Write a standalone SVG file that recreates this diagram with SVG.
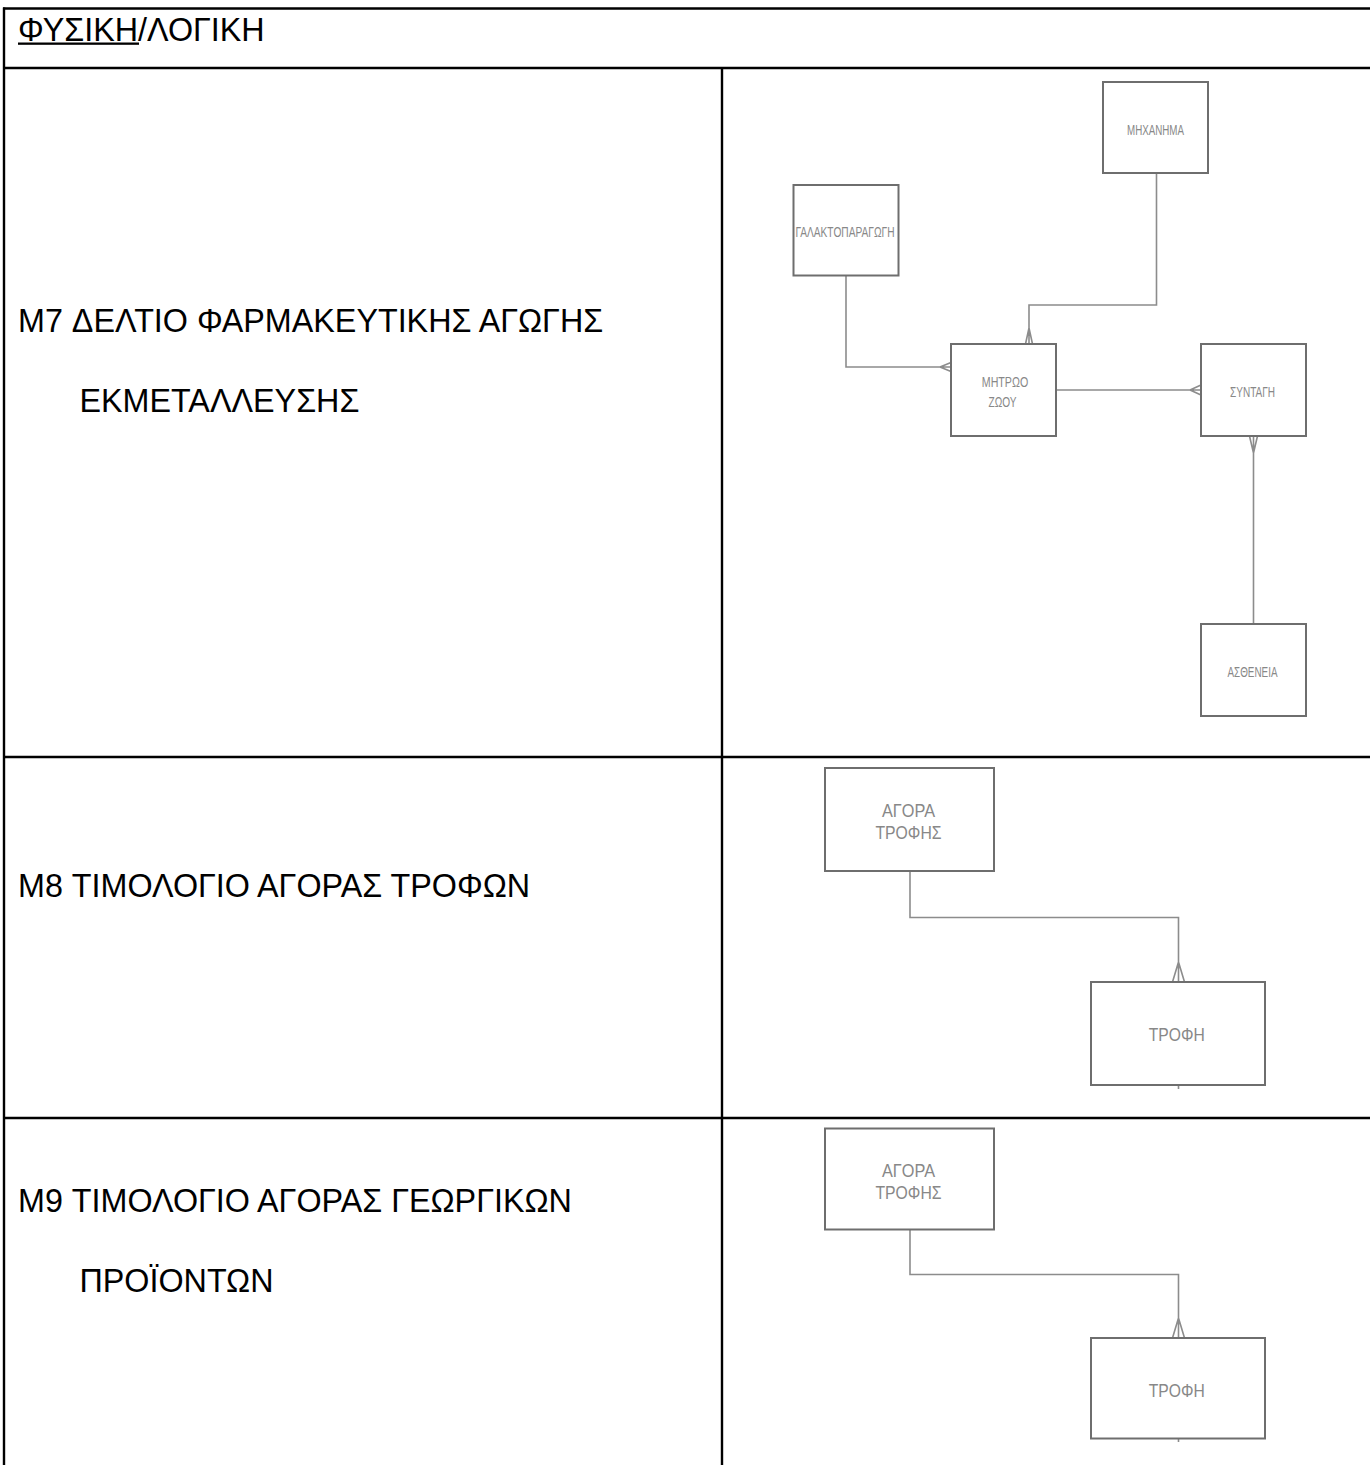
<svg xmlns="http://www.w3.org/2000/svg" width="1370" height="1465" viewBox="0 0 1370 1465">
<style>
.grid line{stroke:#000;stroke-width:2.4}
.lbl{font-family:"Liberation Sans",Arial,sans-serif;font-size:32.3px;fill:#000}
.ent rect{fill:#fff;stroke:#6e6e6e;stroke-width:2}
.ent text{font-family:"Liberation Sans",Arial,sans-serif;fill:#888;text-anchor:middle}
.s{font-size:15px}
.m{font-size:17.5px}
#connectors path{stroke:#8c8c8c;stroke-width:1.6;fill:none}
</style>
<rect width="1370" height="1465" fill="#fff"/>
<g class="grid">
<line x1="3" y1="8.5" x2="1370" y2="8.5"/>
<line x1="3" y1="68" x2="1370" y2="68"/>
<line x1="3" y1="757" x2="1370" y2="757"/>
<line x1="3" y1="1118" x2="1370" y2="1118"/>
<line x1="4" y1="7.5" x2="4" y2="1465"/>
<line x1="722" y1="68" x2="722" y2="1465"/>
</g>
<g id="labels">
<text class="lbl" x="18" y="40.5">ΦΥΣΙΚΗ/ΛΟΓΙΚΗ</text>
<rect x="18" y="42.5" width="121" height="2.3" fill="#000"/>
<text class="lbl" x="18" y="332">M7 ΔΕΛΤΙΟ ΦΑΡΜΑΚΕΥΤΙΚΗΣ ΑΓΩΓΗΣ</text>
<text class="lbl" x="79.5" y="412">ΕΚΜΕΤΑΛΛΕΥΣΗΣ</text>
<text class="lbl" x="18" y="897">M8 ΤΙΜΟΛΟΓΙΟ ΑΓΟΡΑΣ ΤΡΟΦΩΝ</text>
<text class="lbl" x="18" y="1212">M9 ΤΙΜΟΛΟΓΙΟ ΑΓΟΡΑΣ ΓΕΩΡΓΙΚΩΝ</text>
<text class="lbl" x="79.5" y="1292">ΠΡΟΪΟΝΤΩΝ</text>
</g>
<g id="connectors">
<path d="M846 275.5 V367 H951 M940 367 L951 362.5 M940 367 L951 371.5"/>
<path d="M1156.5 173 V305 H1029 V344 M1029 328 L1025.5 344 M1029 328 L1032.5 344"/>
<path d="M1056 390 H1201 M1190 390 L1201 385 M1190 390 L1201 395"/>
<path d="M1253.5 436 V624 M1253.5 453 L1249.5 436 M1253.5 453 L1257.5 436"/>
<path d="M910 871 V917.5 H1178.5 V982 M1178.5 962 L1172.5 982 M1178.5 962 L1184.5 982 M1178.5 1085 V1089"/>
<path d="M910 1229.5 V1274.5 H1178.5 V1338 M1178.5 1318 L1172.5 1338 M1178.5 1318 L1184.5 1338 M1178.5 1438.5 V1442"/>
</g>
<g id="galaktoparagogi" class="ent">
<rect x="793.5" y="185" width="105" height="90.5"/>
<text class="s" x="845" y="237" textLength="99" lengthAdjust="spacingAndGlyphs">ΓΑΛΑΚΤΟΠΑΡΑΓΩΓΗ</text>
</g>
<g id="michanima" class="ent">
<rect x="1103" y="82" width="105" height="91"/>
<text class="s" x="1155.5" y="134.5" textLength="57" lengthAdjust="spacingAndGlyphs">ΜΗΧΑΝΗΜΑ</text>
</g>
<g id="mitroo-zoou" class="ent">
<rect x="951" y="344" width="105" height="92"/>
<text class="s" x="1005" y="386.5" textLength="46.5" lengthAdjust="spacingAndGlyphs">ΜΗΤΡΩΟ</text>
<text class="s" x="1002.5" y="407" textLength="28" lengthAdjust="spacingAndGlyphs">ΖΩΟΥ</text>
</g>
<g id="syntagi" class="ent">
<rect x="1201" y="344" width="105" height="92"/>
<text class="s" x="1252.5" y="397" textLength="45" lengthAdjust="spacingAndGlyphs">ΣΥΝΤΑΓΗ</text>
</g>
<g id="astheneia" class="ent">
<rect x="1201" y="624" width="105" height="92"/>
<text class="s" x="1252.5" y="677" textLength="50" lengthAdjust="spacingAndGlyphs">ΑΣΘΕΝΕΙΑ</text>
</g>
<g id="agora-trofis-m8" class="ent">
<rect x="825" y="768" width="169" height="103"/>
<text class="m" x="908.5" y="816.5" textLength="53" lengthAdjust="spacingAndGlyphs">ΑΓΟΡΑ</text>
<text class="m" x="908.5" y="839" textLength="66" lengthAdjust="spacingAndGlyphs">ΤΡΟΦΗΣ</text>
</g>
<g id="trofi-m8" class="ent">
<rect x="1091" y="982" width="174" height="103"/>
<text class="m" x="1176.7" y="1041" textLength="56" lengthAdjust="spacingAndGlyphs">ΤΡΟΦΗ</text>
</g>
<g id="agora-trofis-m9" class="ent">
<rect x="825" y="1128.5" width="169" height="101"/>
<text class="m" x="908.5" y="1176.5" textLength="53" lengthAdjust="spacingAndGlyphs">ΑΓΟΡΑ</text>
<text class="m" x="908.5" y="1198.5" textLength="66" lengthAdjust="spacingAndGlyphs">ΤΡΟΦΗΣ</text>
</g>
<g id="trofi-m9" class="ent">
<rect x="1091" y="1338" width="174" height="100.5"/>
<text class="m" x="1176.7" y="1396.5" textLength="56" lengthAdjust="spacingAndGlyphs">ΤΡΟΦΗ</text>
</g>
</svg>
